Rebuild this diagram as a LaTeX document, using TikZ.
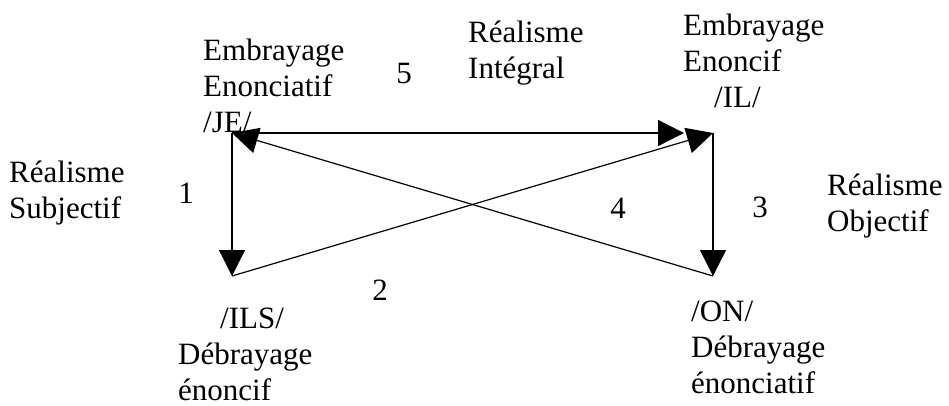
\documentclass[tikz,border=0pt]{standalone}
\usepackage{fontspec}
\setmainfont{Liberation Serif}
\usetikzlibrary{arrows.meta}

\begin{document}
\begin{tikzpicture}[x=1pt,y=-1pt,
    fleche/.style={line width=1.2pt,-{Triangle[length=26pt,width=26pt]}},
    texte/.style={inner sep=0pt,anchor=base west,align=left,font=\fontsize{31}{36}\selectfont},
    num/.style={inner sep=0pt,anchor=base,font=\fontsize{31}{36}\selectfont}]
    \useasboundingbox (0,0) rectangle (949,405);

    % Sommets
    \coordinate (je) at (232,133);
    \coordinate (il) at (713,133);
    \coordinate (ils) at (232,276);
    \coordinate (on) at (713,276);

    % Etiquettes des sommets (base = derniere ligne)
    \node[texte] (tje) at (203,132) {Embrayage\\Enonciatif\\/JE/};
    \node[texte] (til) at (683,107) {Embrayage\\Enoncif\\\hspace*{31pt}/IL/};
    \node[texte] (tils) at (178,400) {\hspace*{42pt}/ILS/\\Débrayage\\énoncif};
    \node[texte] (ton) at (691,393) {/ON/\\Débrayage\\énonciatif};

    % Realismes
    \node[texte] (rsub) at (9,218) {Réalisme\\Subjectif};
    \node[texte] (rint) at (468,78) {Réalisme\\Intégral};
    \node[texte] (robj) at (827,231) {Réalisme\\Objectif};

    % Numeros des fleches
    \node[num] (n1) at (186,203) {1};
    \node[num] (n2) at (380,300) {2};
    \node[num] (n3) at (760,217) {3};
    \node[num] (n4) at (618,218) {4};
    \node[num] (n5) at (404,83) {5};

    % Fleches
    \draw[fleche] (je) -- (ils);
    \draw[fleche] (ils) -- (il);
    \draw[fleche] (il) -- (on);
    \draw[fleche] (on) -- (je);
    \draw[fleche,shorten >=29pt] (je) -- (il);
\end{tikzpicture}
\end{document}
